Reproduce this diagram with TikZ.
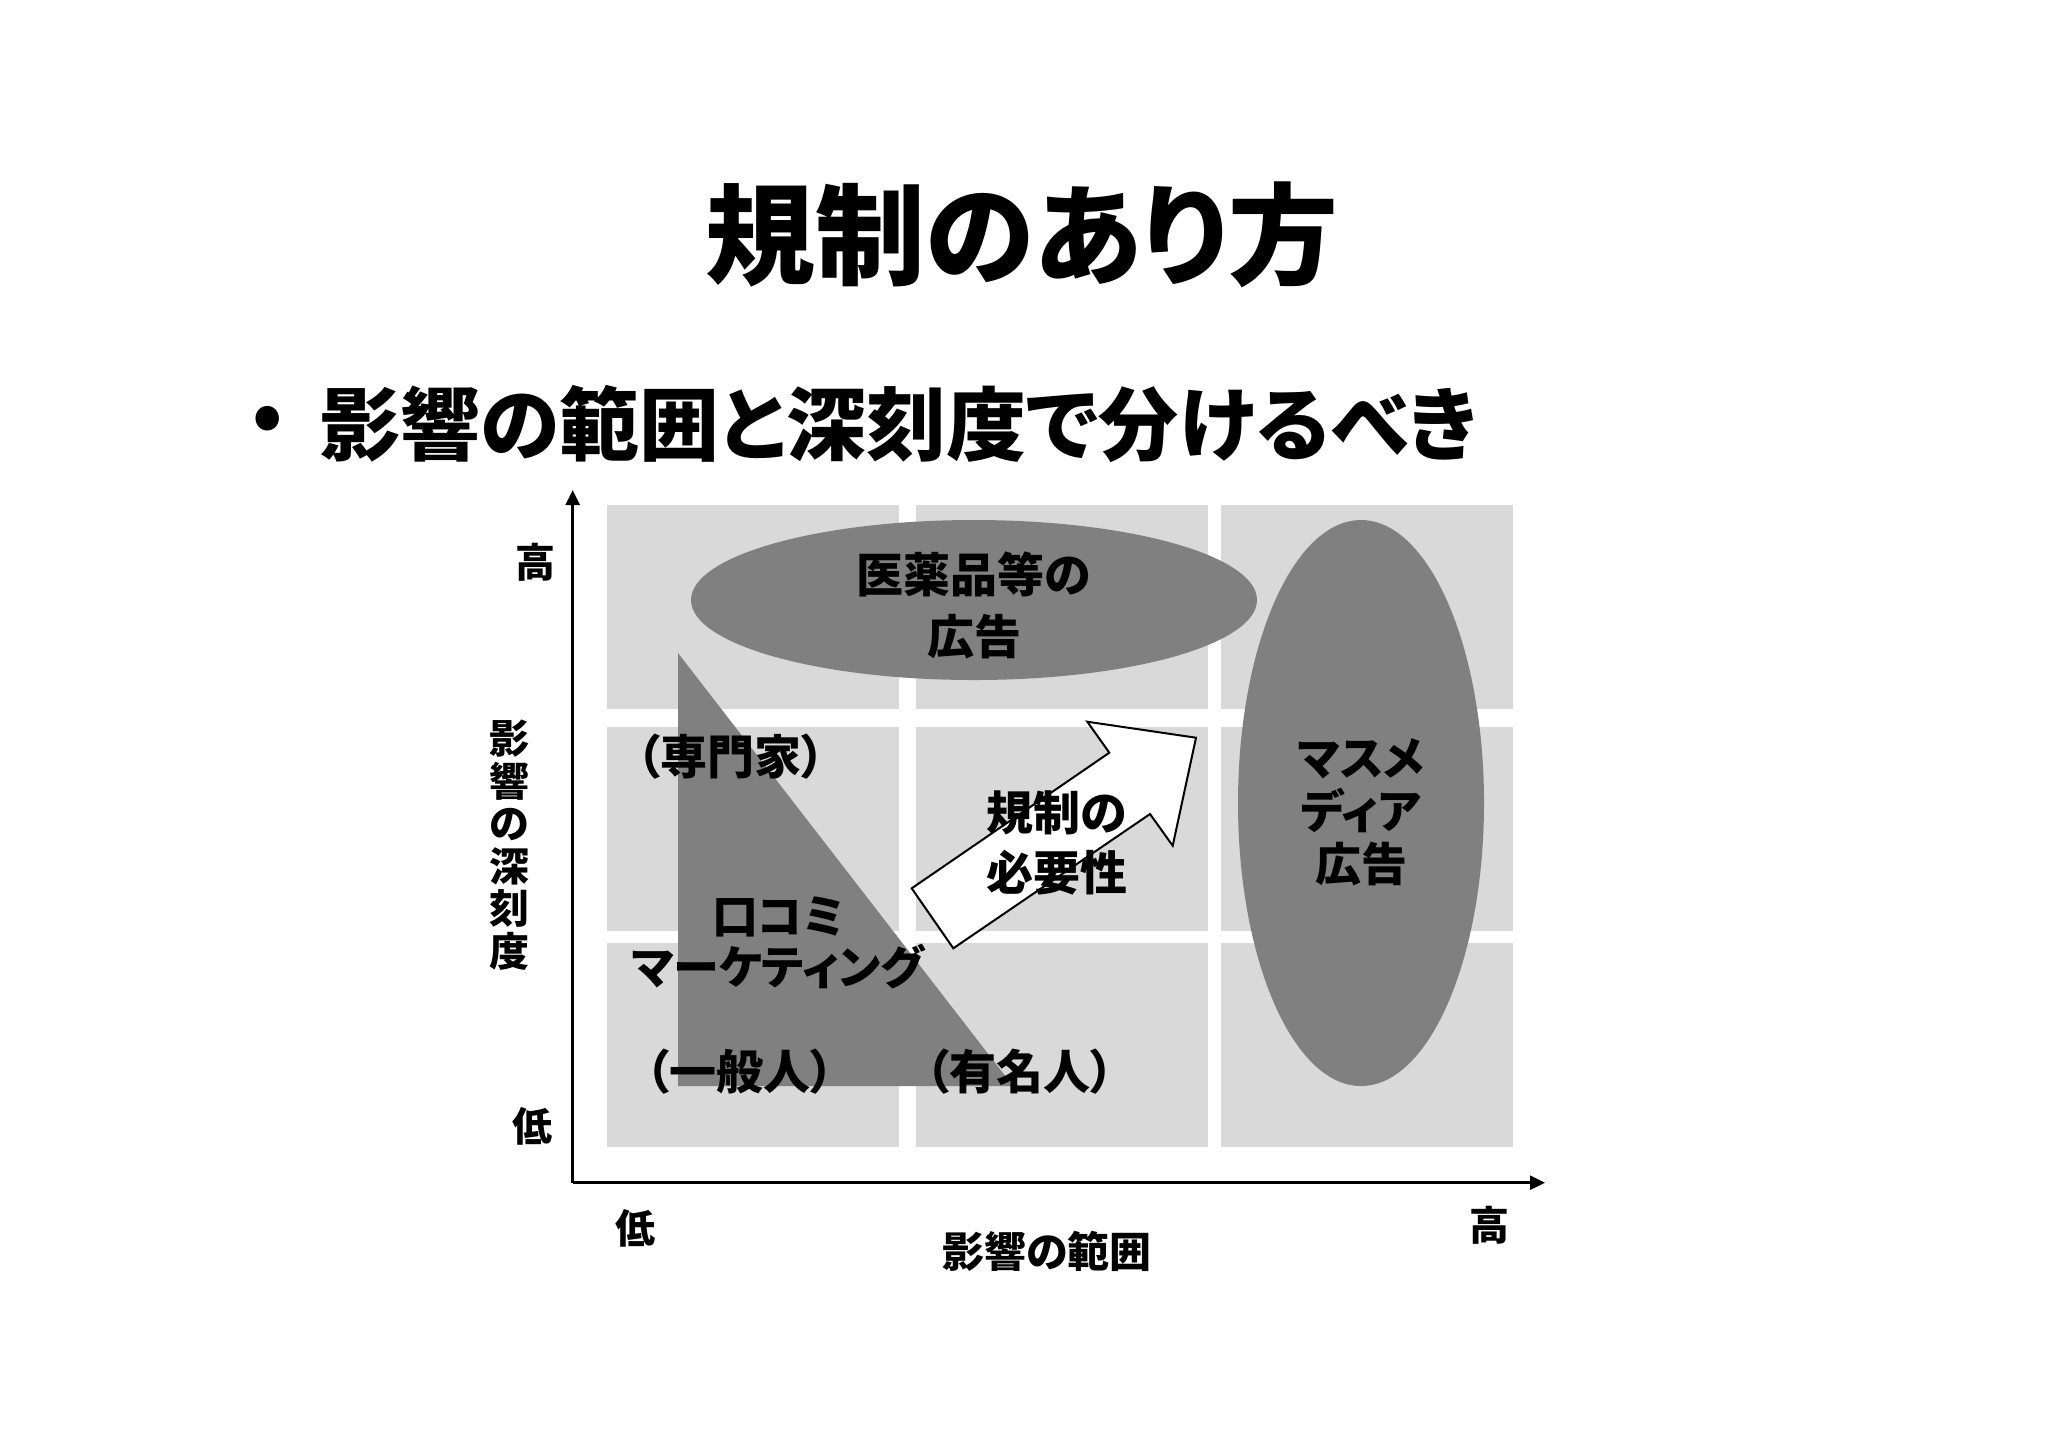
\documentclass[tikz,border=0pt]{standalone}
\usepackage{fontspec}
\newfontfamily\jp[RawFeature=+palt,BoldFont={Noto Sans CJK JP Black}]{Noto Sans CJK JP}
\usetikzlibrary{arrows.meta,shapes.geometric}
\definecolor{cellgray}{RGB}{217,217,217}
\definecolor{blobgray}{RGB}{128,128,128}
\begin{document}
\begin{tikzpicture}[x=0.5pt,y=-0.5pt,
  cell/.style={fill=cellgray,draw=none,inner sep=0pt,minimum width=146pt,minimum height=102pt},
  blob/.style={ellipse,fill=blobgray,draw=none,inner sep=0pt},
  txt/.style={font=\jp\bfseries\fontsize{23.5}{30}\selectfont,align=center,inner sep=0pt,text=black},
  axis/.style={line width=1.25pt,-{Triangle[length=7.5pt,width=7pt]}},
  bigarrow/.style={fill=white,draw=black,line width=1pt,line join=miter}]
\useasboundingbox (0,0) rectangle (2048,1448);
% title
\node[txt,font=\jp\bfseries\fontsize{55}{62}\selectfont] (title) at (1022,235) {規制のあり方};
\node[txt,font=\jp\bfseries\fontsize{38}{44}\selectfont] (bullet) at (268,424) {•};
\node[txt,font=\jp\bfseries\fontsize{40}{46}\selectfont,anchor=west] (sub) at (320,424) {影響の範囲と深刻度で分けるべき};
% grid cells
\node[cell] (c11) at (753,607) {};
\node[cell] (c12) at (1062,607) {};
\node[cell] (c13) at (1367,607) {};
\node[cell] (c21) at (753,829) {};
\node[cell] (c22) at (1062,829) {};
\node[cell] (c23) at (1367,829) {};
\node[cell] (c31) at (753,1045) {};
\node[cell] (c32) at (1062,1045) {};
\node[cell] (c33) at (1367,1045) {};
% triangle
\fill[blobgray] (678,653) coordinate (tA) -- (678,1086) coordinate (tB) -- (1013,1086) coordinate (tC) -- cycle;
% ellipses
\node[blob,minimum width=283pt,minimum height=80pt] (e1) at (974,600) {};
\node[blob,minimum width=123pt,minimum height=283pt] (e2) at (1361,803) {};
% big arrow
\draw[bigarrow] (911.7,888.3) -- (1109.3,752.7) -- (1087.3,721.7) -- (1196,737.7) -- (1172.7,845.7) -- (1150,814) -- (953.3,948.3) -- cycle;
% axes
\coordinate (O) at (572.7,1182.7);
\coordinate (Ytip) at (572.7,490);
\coordinate (Xtip) at (1545,1182.7);
\draw[axis] (O) -- (Ytip);
\draw[axis] (O) -- (Xtip);
% labels
\node[txt,font=\jp\bfseries\fontsize{23.5}{31}\selectfont] (l1) at (974,605) {医薬品等の\\広告};
\node[txt,font=\jp\bfseries\fontsize{23}{26.5}\selectfont] (l2) at (1361,812) {マスメ\\ディア\\広告};
\node[txt,font=\jp\bfseries\fontsize{23.5}{30}\selectfont] (l3) at (1057,843) {規制の\\必要性};
\node[txt] (l4) at (731,757) {（専門家）};
\node[txt,font=\jp\bfseries\fontsize{23}{25.5}\selectfont] (l5) at (778,943) {口コミ\\マーケティング};
\node[txt] (l6) at (740,1072) {（一般人）};
\node[txt] (l7) at (1020,1072) {（有名人）};
% axis labels
\node[txt,font=\jp\bfseries\fontsize{20}{24}\selectfont] (yhi) at (535,562) {高};
\node[txt,font=\jp\bfseries\fontsize{20}{24}\selectfont] (ylo) at (532,1126) {低};
\node[txt,font=\jp\bfseries\fontsize{20}{21.25}\selectfont] (ylab) at (509,845) {影\\響\\の\\深\\刻\\度};
\node[txt,font=\jp\bfseries\fontsize{20}{24}\selectfont] (xlo) at (635,1228) {低};
\node[txt,font=\jp\bfseries\fontsize{20}{24}\selectfont] (xhi) at (1489,1225) {高};
\node[txt,font=\jp\bfseries\fontsize{21}{24}\selectfont] (xlab) at (1047,1251) {影響の範囲};
\end{tikzpicture}
\end{document}
